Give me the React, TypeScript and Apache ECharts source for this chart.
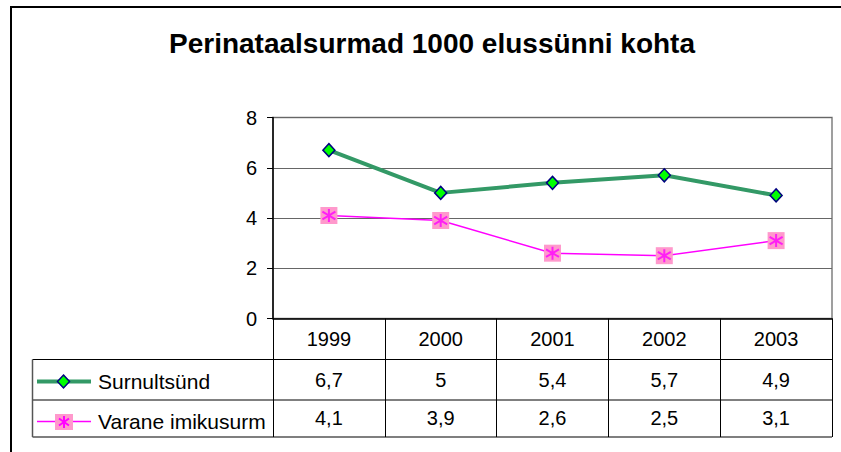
import React, { useEffect, useRef } from "react";
import * as echarts from "echarts";

const title = "Perinataalsurmad 1000 elussünni kohta";
const years = ["1999", "2000", "2001", "2002", "2003"];
const seriesNames = ["Surnultsünd", "Varane imikusurm"];
const surnultsund = [6.7, 5, 5.4, 5.7, 4.9];
const varane = [4.1, 3.9, 2.6, 2.5, 3.1];
const yMin = 0;
const yMax = 8;
const yInterval = 2;

const FONT = "'Liberation Sans', Arial, sans-serif";
const fmt = (v: number) => String(v).replace(".", ",");

// layout constants
const G_LEFT = 273;
const G_TOP = 117.5;
const G_RIGHT_X = 832;
const G_BOTTOM_Y = 318.5;
const W = 841;
const H = 452;
const ROW1_Y = 359.5;
const ROW2_Y = 400;
const ROW3_Y = 437;
const TABLE_LEFT = 32.5;

export default function App() {
  const ref = useRef<HTMLDivElement>(null);
  useEffect(() => {
    if (!ref.current) return;
    const chart = echarts.init(ref.current, null, { renderer: "svg" });
    const asterisk = "path://M6,0L6,12M1,2.5L11,9.5M1,9.5L11,2.5";
    const legendLine = (y: number, color: string, width: number) => ({
      type: "line",
      shape: { x1: 37, y1: y, x2: 91, y2: y },
      style: { stroke: color, lineWidth: width },
    });
    const option: any = {
      animation: false,
      backgroundColor: "#ffffff",
      textStyle: { fontFamily: FONT },
      grid: {
        left: G_LEFT,
        top: G_TOP,
        right: W - G_RIGHT_X,
        bottom: H - G_BOTTOM_Y,
        show: true,
        borderColor: "#808080",
        borderWidth: 1.5,
        backgroundColor: "transparent",
      },
      xAxis: [
        {
          type: "category",
          data: years,
          boundaryGap: true,
          axisLine: { show: true, lineStyle: { color: "#000", width: 1.5 } },
          axisTick: {
            show: true,
            interval: 0,
            length: ROW3_Y - G_BOTTOM_Y,
            lineStyle: { color: "#000", width: 1 },
          },
          axisLabel: {
            interval: 0,
            margin: 20,
            verticalAlign: "middle",
            color: "#000",
            fontSize: 20,
            fontFamily: FONT,
          },
          splitLine: { show: false },
        },
        {
          type: "category",
          data: years,
          position: "bottom",
          offset: 61.5,
          axisLine: { show: false },
          axisTick: { show: false },
          axisLabel: {
            interval: 0,
            margin: 0,
            verticalAlign: "middle",
            color: "#000",
            fontSize: 20,
            fontFamily: FONT,
            formatter: (_v: string, i: number) => fmt(surnultsund[i]),
          },
          splitLine: { show: false },
        },
        {
          type: "category",
          data: years,
          position: "bottom",
          offset: 99.5,
          axisLine: { show: false },
          axisTick: { show: false },
          axisLabel: {
            interval: 0,
            margin: 0,
            verticalAlign: "middle",
            color: "#000",
            fontSize: 20,
            fontFamily: FONT,
            formatter: (_v: string, i: number) => fmt(varane[i]),
          },
          splitLine: { show: false },
        },
      ],
      yAxis: {
        type: "value",
        min: yMin,
        max: yMax,
        interval: yInterval,
        axisLine: { show: true, lineStyle: { color: "#000", width: 1.5 } },
        axisTick: { show: true, length: 6, lineStyle: { color: "#000" } },
        axisLabel: { margin: 16, color: "#000", fontSize: 20, fontFamily: FONT },
        splitLine: { show: true, lineStyle: { color: "#666", width: 1.2 } },
      },
      series: [
        {
          name: seriesNames[0],
          type: "line",
          data: surnultsund,
          lineStyle: { color: "#339966", width: 4 },
          symbol: "diamond",
          symbolSize: [12, 13],
          itemStyle: { color: "#00FF00", borderColor: "#000080", borderWidth: 1.5 },
          z: 3,
        },
        {
          name: seriesNames[1],
          type: "line",
          data: varane,
          lineStyle: { color: "#FF00FF", width: 1.5 },
          symbol: "rect",
          symbolSize: 17,
          itemStyle: { color: "#FF99CC", borderWidth: 0 },
          z: 2,
        },
        {
          name: seriesNames[1] + " marker",
          type: "scatter",
          data: varane,
          symbol: asterisk,
          symbolSize: 13,
          itemStyle: { color: "transparent", borderColor: "#FF00FF", borderWidth: 2 },
          z: 4,
        },
      ],
      graphic: [
        {
          type: "rect",
          shape: { x: 11, y: 7, width: 900, height: 600 },
          style: { fill: "none", stroke: "#000", lineWidth: 2 },
          silent: true,
        },
        {
          type: "text",
          x: 432,
          y: 43,
          style: {
            text: title,
            fontSize: 28,
            fontWeight: "bold",
            fontFamily: FONT,
            fill: "#000",
            align: "center",
            verticalAlign: "middle",
          },
        },
        // table lines
        { type: "line", shape: { x1: TABLE_LEFT, y1: ROW1_Y, x2: G_RIGHT_X, y2: ROW1_Y }, style: { stroke: "#000", lineWidth: 1 } },
        { type: "line", shape: { x1: TABLE_LEFT, y1: ROW2_Y, x2: G_RIGHT_X, y2: ROW2_Y }, style: { stroke: "#000", lineWidth: 1 } },
        { type: "line", shape: { x1: TABLE_LEFT, y1: ROW3_Y, x2: G_RIGHT_X, y2: ROW3_Y }, style: { stroke: "#555", lineWidth: 1.5 } },
        { type: "line", shape: { x1: TABLE_LEFT, y1: ROW1_Y, x2: TABLE_LEFT, y2: ROW3_Y }, style: { stroke: "#555", lineWidth: 1.5 } },
        // legend row 1
        legendLine(381.5, "#339966", 4),
        {
          type: "polygon",
          shape: { points: [[63.5, 375], [69.5, 381.5], [63.5, 388], [57.5, 381.5]] },
          style: { fill: "#00FF00", stroke: "#000080", lineWidth: 1.5 },
        },
        {
          type: "text",
          x: 98,
          y: 381.5,
          style: { text: seriesNames[0], fontSize: 21, fontFamily: FONT, fill: "#000", verticalAlign: "middle" },
        },
        // legend row 2
        legendLine(421.5, "#FF00FF", 1.5),
        {
          type: "rect",
          shape: { x: 55, y: 414, width: 18, height: 16 },
          style: { fill: "#FF99CC" },
        },
        { type: "line", shape: { x1: 64, y1: 416, x2: 64, y2: 428 }, style: { stroke: "#FF00FF", lineWidth: 2 } },
        { type: "line", shape: { x1: 59, y1: 418.5, x2: 69, y2: 425.5 }, style: { stroke: "#FF00FF", lineWidth: 2 } },
        { type: "line", shape: { x1: 59, y1: 425.5, x2: 69, y2: 418.5 }, style: { stroke: "#FF00FF", lineWidth: 2 } },
        {
          type: "text",
          x: 98,
          y: 421,
          style: { text: seriesNames[1], fontSize: 21, fontFamily: FONT, fill: "#000", verticalAlign: "middle" },
        },
      ],
    };
    chart.setOption(option);
    return () => chart.dispose();
  }, []);
  return (
    <div
      ref={ref}
      style={{ position: "absolute", left: 0, top: 0, width: W, height: H, background: "#fff" }}
    />
  );
}
